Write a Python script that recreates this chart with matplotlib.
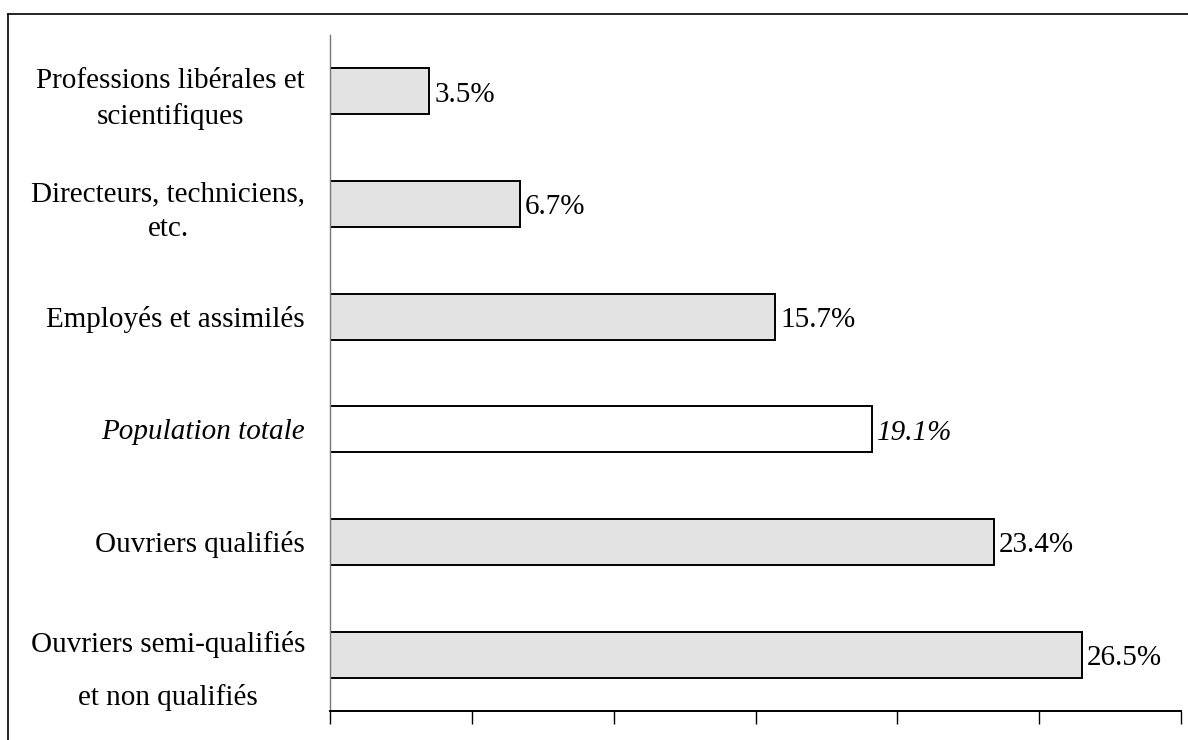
import matplotlib.pyplot as plt
from matplotlib.lines import Line2D

## Categories from top to bottom, with their percentages
categories = [
    'Professions libérales et\nscientifiques',
    'Directeurs, techniciens,\netc.',
    'Employés et assimilés',
    'Population totale',
    'Ouvriers qualifiés',
    'Ouvriers semi-qualifiés\net non qualifiés',
]
values = [3.5, 6.7, 15.7, 19.1, 23.4, 26.5]
value_labels = ['3.5%', '6.7%', '15.7%', '19.1%', '23.4%', '26.5%']
total_index = 3  # the overall population row is drawn in white and italics

plt.rcParams['font.family'] = ['Liberation Serif', 'DejaVu Serif']

fig = plt.figure(figsize=(11.88, 7.4), dpi=100)
ax = fig.add_axes([330 / 1188, 29 / 740, 851 / 1188, 676 / 740])

n = len(categories)
ypos = list(range(n - 1, -1, -1))
colors = ['white' if i == total_index else '#e3e3e3' for i in range(n)]
ax.barh(ypos, values, height=0.41, color=colors, edgecolor='black', linewidth=1.4)

for i, (y, v, lab) in enumerate(zip(ypos, values, value_labels)):
    style = 'italic' if i == total_index else 'normal'
    ax.annotate(lab, (v, y), xytext=(3.5, -2.5), textcoords='offset points',
                va='center', ha='left', fontsize=21, style=style)

ax.set_xlim(0, 30)
ax.set_ylim(-0.5, n - 0.5)
ax.set_xticks(range(0, 31, 5))
ax.set_xticklabels([])
ax.set_yticks(ypos)
ax.set_yticklabels(categories, fontsize=21, multialignment='center')
for i, t in enumerate(ax.get_yticklabels()):
    if i == total_index:
        t.set_style('italic')
    if i == n - 1:
        t.set_linespacing(2.27)
    else:
        t.set_linespacing(1.45)
ax.tick_params(axis='y', length=0, pad=18)
ax.tick_params(axis='x', length=9, width=1, color='black', direction='out')

ax.spines['top'].set_visible(False)
ax.spines['right'].set_visible(False)
ax.spines['left'].set_color('#777777')
ax.spines['left'].set_linewidth(1)
ax.spines['bottom'].set_linewidth(1.4)

# outer frame around the chart, only top and left edges fall inside the image
fig.add_artist(Line2D([8 / 1188, 8 / 1188], [-0.1, 726 / 740], color='black', linewidth=1.2))
fig.add_artist(Line2D([8 / 1188, 1.1], [726 / 740, 726 / 740], color='black', linewidth=1.2))

fig.savefig('out.png', dpi=100)
